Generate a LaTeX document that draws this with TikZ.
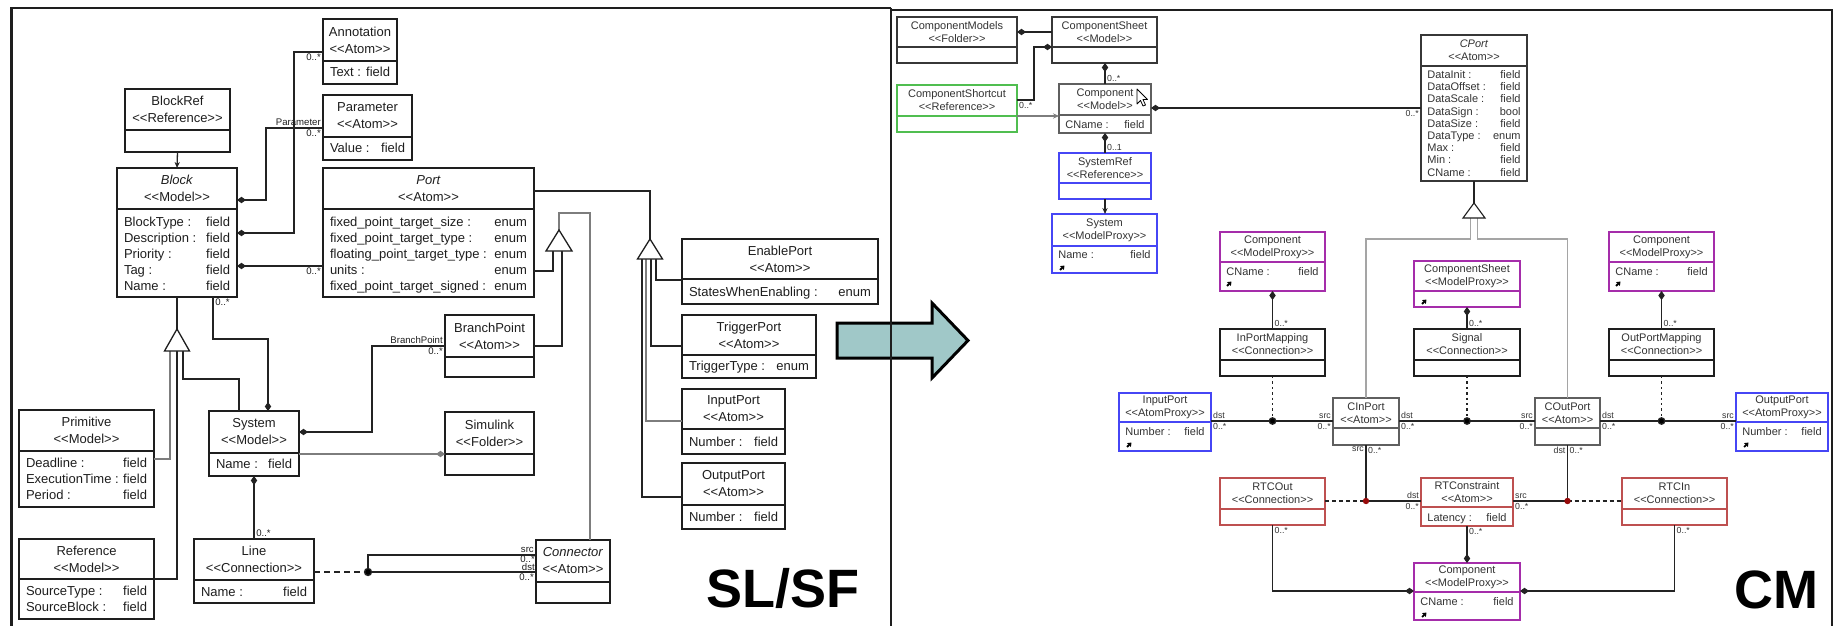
\documentclass[tikz,border=0pt]{standalone}
\usepackage{fontspec}
\setmainfont{Liberation Sans}
\usetikzlibrary{fit,calc,arrows.meta}

\definecolor{ink}{RGB}{30,30,30}
\definecolor{wire}{RGB}{35,35,35}
\definecolor{wiregray}{RGB}{125,125,125}
\definecolor{genline}{RGB}{165,165,165}
\definecolor{cmgray}{RGB}{55,55,55}
\definecolor{cmmid}{RGB}{95,95,95}
\definecolor{cmgreen}{RGB}{80,190,80}
\definecolor{cmblue}{RGB}{70,70,245}
\definecolor{cmmag}{RGB}{165,45,170}
\definecolor{cmred}{RGB}{190,80,80}
\definecolor{dotred}{RGB}{150,10,10}
\definecolor{arrowfill}{RGB}{160,200,200}
\colorlet{boxtxt}{ink}

% stereotype brackets, kept apart so no ligature is formed
\newcommand\stereo[1]{\textless\kern0pt\textless#1\textgreater\kern0pt\textgreater}
\newcommand\boxfont{\fontsize{6.5}{8.5}\selectfont}
\newcommand\lblfont{\fontsize{4.8}{5.5}\selectfont}
\newcommand\padx{3.3pt}
\newcommand\boxlw{0.65pt}

\tikzset{
  umlbox/.style={draw=#1, line width=\boxlw, inner sep=0pt, outer sep=0pt},
  hdrtext/.style={inner sep=0pt, align=center, font=\boxfont, text=boxtxt},
  attrtext/.style={inner sep=0pt, font=\boxfont, text=boxtxt},
  ml/.style={inner sep=0.8pt, font=\lblfont, text=boxtxt},
  tight/.style={inner sep=0.3pt},
  wire/.style={draw=wire, line width=0.65pt},
  rwire/.style={draw=wire, line width=0.55pt},
  genl/.style={draw=genline, line width=0.65pt},
  owns/.style={-{Diamond[length=4.5pt,width=3.2pt]}},
  nav/.style={-{Stealth[length=3pt,width=2.6pt]}},
  gentri/.style={draw=ink, fill=white, line width=0.65pt, line join=miter},
  title/.style={inner sep=0pt, anchor=base, font=\fontsize{27}{27}\selectfont\bfseries, text=black},
}

% class box: [colour] name, corner, corner, divider y, header text
\newcommand\cls[6][ink]{%
  \node[umlbox=#1, fit={(#3) (#4)}] (#2) {};
  \draw[draw=#1, line width=\boxlw] (#2.west |- 0,#5) -- (#2.east |- 0,#5);
  \node[hdrtext] (#2-t) at ($(#2.north)!0.5!(#2.north |- 0,#5)$) {#6};
}
% attribute rows: name, first baseline y, row step, list of key/value
\newcommand\rows[4]{%
  \foreach \ka/\va [count=\ix from 0] in {#4}{%
    \pgfmathsetmacro\yy{#2+\ix*#3}%
    \node[attrtext, anchor=base west, xshift=\padx] (#1-k\ix) at (#1.west |- 0,\yy) {\ka};
    \node[attrtext, anchor=base east, xshift=-\padx] (#1-v\ix) at (#1.east |- 0,\yy) {\va};
  }}
% small proxy marker arrow
\newcommand\proxyicon[1]{%
  \draw[shift={(#1)}, line width=0.9pt, -{Triangle[length=1.8pt,width=2.6pt]}] (-2,3) -- (2.5,-1.5);}

\begin{document}
\begin{tikzpicture}[x=0.5pt, y=-0.5pt]
\useasboundingbox (0,0) rectangle (1847,626);
\fill[white] (0,0) rectangle (1847,626);

% transformation arrow between the two panels
\draw[line width=1.5pt, fill=arrowfill, line join=miter]
  (837,323) -- (932,323) -- (932,303) -- (968,340.5) -- (932,378) -- (932,358) -- (837,358) -- cycle;

% panel frames
\draw[ink, line width=1.5pt] (11,626) -- (11,8);
\draw[ink, line width=0.9pt] (10.3,8) -- (891,8);
\draw[ink, line width=0.6pt] (891,8) -- (891,626);
\draw[ink, line width=1pt] (891,10) -- (1832,10) -- (1832,626);

% ================= SL/SF metamodel =================
\cls{annotation}{323,19}{397,84}{61}{Annotation\\\stereo{Atom}}
\rows{annotation}{77}{16}{Text :/field}
\cls{parameter}{323,95}{412,160}{137}{Parameter\\\stereo{Atom}}
\rows{parameter}{153}{16}{Value :/field}
\cls{blockref}{125,89}{230,152}{130}{BlockRef\\\stereo{Reference}}
\cls{block}{117,168}{237,297}{209}{\textit{Block}\\\stereo{Model}}
\rows{block}{226.5}{16}{BlockType :/field, Description :/field, Priority :/field, Tag :/field, Name :/field}
\cls{port}{323,168}{534,297}{209}{\textit{Port}\\\stereo{Atom}}
\rows{port}{226.5}{16}{fixed\_point\_target\_size :/enum, fixed\_point\_target\_type :/enum, floating\_point\_target\_type :/enum, units :/enum, fixed\_point\_target\_signed :/enum}
\cls{branchpoint}{445,315}{534,377}{357}{BranchPoint\\\stereo{Atom}}
\cls{simulink}{445,412}{534,475}{454}{Simulink\\\stereo{Folder}}
\cls{system}{209,411}{299,476}{453}{System\\\stereo{Model}}
\rows{system}{468.5}{16}{Name :/field}
\cls{primitive}{19,410}{154,507}{451}{Primitive\\\stereo{Model}}
\rows{primitive}{467.5}{16}{Deadline :/field, ExecutionTime :/field, Period :/field}
\cls{reference}{19,539}{154,619}{579}{Reference\\\stereo{Model}}
\rows{reference}{595.5}{16}{SourceType :/field, SourceBlock :/field}
\cls{line}{194,539}{314,603}{580}{Line\\\stereo{Connection}}
\rows{line}{596.5}{16}{Name :/field}
\cls{connector}{536,540}{610,603}{582}{\textit{Connector}\\\stereo{Atom}}
\cls{enableport}{682,239}{878,304}{279}{EnablePort\\\stereo{Atom}}
\rows{enableport}{296.5}{16}{StatesWhenEnabling :/enum}
\cls{triggerport}{682,315}{816,378}{355}{TriggerPort\\\stereo{Atom}}
\rows{triggerport}{370.5}{16}{TriggerType :/enum}
\cls{inputport}{682,389}{785,454}{429}{InputPort\\\stereo{Atom}}
\rows{inputport}{446.5}{16}{Number :/field}
\cls{outputport}{682,463}{785,529}{505}{OutputPort\\\stereo{Atom}}
\rows{outputport}{521.5}{16}{Number :/field}

% containment and references
\draw[wire, nav] (blockref.south) -- (block.north);
\draw[wire, owns] (parameter.west |- 0,128)
    node[ml, anchor=south east] {Parameter} node[ml, anchor=north east] {0..*}
    -- (266,128) -- (266,200) -- (block.east |- 0,200);
\draw[wire, owns] (annotation.west |- 0,52) node[ml, anchor=north east] {0..*}
    -- (294,52) -- (294,233) -- (block.east |- 0,233);
\draw[wire, owns] (port.west |- 0,266) node[ml, anchor=north east] {0..*}
    -- (block.east |- 0,266);
\draw[wire, owns] (block.south -| 213,0) node[ml, anchor=north west] {0..*}
    -- (213,339) -- (268,339) -- (system.north -| 268,0);
\draw[wire, owns] (branchpoint.west |- 0,346)
    node[ml, anchor=south east] {BranchPoint} node[ml, anchor=north east] {0..*}
    -- (372,346) -- (372,432) -- (system.east |- 0,432);
\draw[wire, draw=wiregray, owns] (system.east |- 0,454) -- (simulink.west |- 0,454);
\draw[wire, owns] (line.north -| 254,0) node[ml, anchor=south west] {0..*}
    -- (system.south -| 254,0);

% Line association class joint
\coordinate (lj) at (368,572);
\draw[wire, dash pattern=on 3pt off 2pt] (line.east |- 0,572) -- (lj);
\draw[wire] (connector.west |- 0,572) node[ml, tight, anchor=south east] {dst} node[ml, anchor=north east] {0..*} -- (lj);
\draw[wire] (connector.west |- 0,555) node[ml, anchor=south east] {src} node[ml, tight, anchor=north east] {0..*}
    -- (lj |- 0,555) -- (lj);
\fill[wire] (lj) circle (1.75pt);

% Block specialisations
\coordinate (g1) at (177,329);
\draw[wire] (block.south) -- (g1);
\draw[wire, draw=wiregray] (primitive.east |- 0,459) -- (170,459) -- (170,351);
\draw[wire] (reference.east |- 0,579) -- (177,579) -- (177,351);
\draw[wire] (system.north -| 239,0) -- (239,379) -- (183,379) -- (183,351);
\draw[gentri] (g1) -- ++(-12.5,22) -- ++(25,0) -- cycle;

% Connector specialisations
\coordinate (g2) at (559,230);
\draw[wire, draw=wiregray] (g2) -- (559,213) -- (590,213) -- (connector.north -| 590,0);
\draw[wire] (port.east |- 0,271) -- (553,271) -- (553,251);
\draw[wire] (branchpoint.east |- 0,346) -- (562,346) -- (562,251);
\draw[gentri] (g2) -- ++(-13,21) -- ++(26,0) -- cycle;

% Port specialisations
\coordinate (g3) at (650,239);
\draw[wire] (g3) -- (650,191) -- (port.east |- 0,191);
\draw[wire] (enableport.west |- 0,280) -- (656,280) -- (656,259);
\draw[wire] (triggerport.west |- 0,346) -- (651,346) -- (651,259);
\draw[wire, draw=wiregray] (inputport.west |- 0,421) -- (646,421) -- (646,259);
\draw[wire] (outputport.west |- 0,497) -- (642,497) -- (642,259);
\draw[gentri] (g3) -- ++(-12.5,20) -- ++(25,0) -- cycle;

\node[title] (slsf) at (783,607) {SL/SF};

% ================= CM metamodel =================
\renewcommand\boxfont{\fontsize{5.5}{6.5}\selectfont}
\renewcommand\lblfont{\fontsize{4.4}{5}\selectfont}
\renewcommand\padx{3pt}
\renewcommand\boxlw{0.6pt}
\colorlet{boxtxt}{black!80}

\cls[cmgray]{cmodels}{897,17}{1017,63}{47}{ComponentModels\\\stereo{Folder}}
\cls[cmgray]{csheet}{1052,17}{1157,63}{47}{ComponentSheet\\\stereo{Model}}
\cls[cmgreen]{cshort}{897,85}{1017,132}{116}{ComponentShortcut\\\stereo{Reference}}
\cls[cmmid]{component}{1059,84}{1151,133}{115}{Component\\\stereo{Model}}
\rows{component}{128}{12.2}{CName :/field}
\cls[cmblue]{sysref}{1059,153}{1151,199}{183}{SystemRef\\\stereo{Reference}}
\cls[cmblue]{sysproxy}{1052,214}{1157,273}{246}{System\\\stereo{ModelProxy}}
\rows{sysproxy}{258}{12.2}{Name :/field}
\proxyicon{1062,267}
\cls[cmgray]{cport}{1421,35}{1527,181}{66}{\textit{CPort}\\\stereo{Atom}}
\rows{cport}{78.5}{12.2}{DataInit :/field, DataOffset :/field, DataScale :/field, DataSign :/bool, DataSize :/field, DataType :/enum, Max :/field, Min :/field, CName :/field}

\cls[cmmag]{cpa}{1220,232}{1325,291}{262}{Component\\\stereo{ModelProxy}}
\rows{cpa}{275}{12.2}{CName :/field}
\proxyicon{1229,283}
\cls[ink]{inmap}{1220,329}{1325,376}{360}{InPortMapping\\\stereo{Connection}}
\draw[ink, line width=1.1pt] (inmap.west |- 0,360) -- (inmap.east |- 0,360);
\cls[cmblue]{inproxy}{1119,393}{1211,451}{422}{InputPort\\\stereo{AtomProxy}}
\rows{inproxy}{435}{12.2}{Number :/field}
\proxyicon{1129,444}
\cls[cmmid]{cin}{1333,398}{1399,445}{428}{CInPort\\\stereo{Atom}}
\cls[cmmag]{sheetproxy}{1414,261}{1520,307}{291}{ComponentSheet\\\stereo{ModelProxy}}
\proxyicon{1424,301}
\cls[ink]{signal}{1414,329}{1520,376}{360}{Signal\\\stereo{Connection}}
\draw[ink, line width=1.1pt] (signal.west |- 0,360) -- (signal.east |- 0,360);
\cls[cmmid]{cout}{1535,398}{1600,445}{428}{COutPort\\\stereo{Atom}}
\cls[cmmag]{cpb}{1609,232}{1714,291}{262}{Component\\\stereo{ModelProxy}}
\rows{cpb}{275}{12.2}{CName :/field}
\proxyicon{1618,283}
\cls[ink]{outmap}{1609,329}{1714,376}{360}{OutPortMapping\\\stereo{Connection}}
\draw[ink, line width=1.1pt] (outmap.west |- 0,360) -- (outmap.east |- 0,360);
\cls[cmblue]{outproxy}{1736,393}{1828,451}{422}{OutputPort\\\stereo{AtomProxy}}
\rows{outproxy}{435}{12.2}{Number :/field}
\proxyicon{1746,444}
\cls[cmred]{rtcout}{1220,478}{1325,525}{509}{RTCOut\\\stereo{Connection}}
\cls[cmred]{rtc}{1421,478}{1513,526}{507}{RTConstraint\\\stereo{Atom}}
\rows{rtc}{521}{12.2}{Latency :/field}
\cls[cmred]{rtcin}{1622,478}{1727,525}{509}{RTCIn\\\stereo{Connection}}
\cls[cmmag]{cpc}{1414,563}{1520,620}{592}{Component\\\stereo{ModelProxy}}
\rows{cpc}{605}{12.2}{CName :/field}
\proxyicon{1424,614}

% mouse pointer resting on Component
\draw[black, fill=white, line width=0.4pt, line join=round, shift={(1137,89)}]
  (0,0) -- (0,15) -- (3.5,11.5) -- (6,17) -- (8.5,16) -- (6,10.5) -- (10.5,10.5) -- cycle;

% folder / sheet containment
\draw[rwire, owns] (csheet.west |- 0,32) -- (cmodels.east |- 0,32);
\draw[rwire, owns] (cshort.east |- 0,100) node[ml, anchor=north west] {0..*}
    -- (1034,100) -- (1034,47) -- (csheet.west |- 0,47);
\draw[rwire, draw=wiregray, nav] (cshort.east |- 0,116) -- (component.west |- 0,116);
\draw[rwire, owns] (component.north) node[ml, anchor=south west] {0..*} -- (component.north |- csheet.south);
\draw[rwire, owns] (cport.west |- 0,108) node[ml, anchor=north east] {0..*} -- (component.east |- 0,108);
\draw[rwire, owns] (sysref.north) node[ml, anchor=south west] {0..1} -- (sysref.north |- component.south);
\draw[rwire, nav] (sysref.south) -- (sysref.south |- sysproxy.north);

% CPort specialisations
\coordinate (g4) at (cport.south |- 0,203);
\draw[rwire] (cport.south) -- (g4);
\draw[genl] (cin.north) -- (cin.north |- 0,239) -- (1470.5,239) -- (1470.5,218);
\draw[genl] (cout.north) -- (cout.north |- 0,239) -- (1477.5,239) -- (1477.5,218);
\draw[gentri, line width=0.55pt] (g4) -- ++(-11,15) -- ++(22,0) -- cycle;

% port mappings and signals
\draw[rwire, owns] (inmap.north) node[ml, anchor=south west] {0..*} -- (inmap.north |- cpa.south);
\draw[rwire, owns] (signal.north) node[ml, anchor=south west] {0..*} -- (signal.north |- sheetproxy.south);
\draw[rwire, owns] (outmap.north) node[ml, anchor=south west] {0..*} -- (outmap.north |- cpb.south);
\coordinate (jin) at (inmap.south |- 0,421);
\coordinate (jsig) at (signal.south |- 0,421);
\coordinate (jout) at (outmap.south |- 0,421);
\draw[rwire, dash pattern=on 1.2pt off 1.5pt] (inmap.south) -- (jin);
\draw[rwire, dash pattern=on 1.2pt off 1.5pt] (signal.south) -- (jsig);
\draw[rwire, dash pattern=on 1.2pt off 1.5pt] (outmap.south) -- (jout);
\draw[rwire] (inproxy.east |- 0,421) node[ml, anchor=south west] {dst} node[ml, anchor=north west] {0..*}
    -- (cin.west |- 0,421) node[ml, anchor=south east] {src} node[ml, anchor=north east] {0..*};
\draw[rwire] (cin.east |- 0,421) node[ml, anchor=south west] {dst} node[ml, anchor=north west] {0..*}
    -- (cout.west |- 0,421) node[ml, anchor=south east] {src} node[ml, anchor=north east] {0..*};
\draw[rwire] (cout.east |- 0,421) node[ml, anchor=south west] {dst} node[ml, anchor=north west] {0..*}
    -- (outproxy.west |- 0,421) node[ml, anchor=south east] {src} node[ml, anchor=north east] {0..*};
\foreach \j in {jin, jsig, jout} \fill[wire] (\j) circle (1.6pt);

% timing constraints
\coordinate (jrl) at (cin.south |- 0,501);
\coordinate (jrr) at (cout.south |- 0,501);
\draw[rwire] (cin.south) node[ml, anchor=north east] {src} node[ml, anchor=north west] {0..*} -- (jrl);
\draw[rwire] (cout.south) node[ml, anchor=north east] {dst} node[ml, anchor=north west] {0..*} -- (jrr);
\draw[rwire] (rtc.west |- 0,501) node[ml, anchor=south east] {dst} node[ml, anchor=north east] {0..*} -- (jrl);
\draw[rwire] (rtc.east |- 0,501) node[ml, anchor=south west] {src} node[ml, anchor=north west] {0..*} -- (jrr);
\draw[rwire, dash pattern=on 2pt off 1.5pt] (rtcout.east |- 0,501) -- (jrl);
\draw[rwire, dash pattern=on 2pt off 1.5pt] (jrr) -- (rtcin.west |- 0,501);
\fill[dotred] (jrl) circle (1.6pt);
\fill[dotred] (jrr) circle (1.6pt);
\draw[rwire, owns] (rtc.south) node[ml, anchor=north west] {0..*} -- (rtc.south |- cpc.north);
\draw[rwire, owns] (rtcout.south) node[ml, anchor=north west] {0..*} -- (rtcout.south |- 0,591) -- (cpc.west |- 0,591);
\draw[rwire, owns] (rtcin.south) node[ml, anchor=north west] {0..*} -- (rtcin.south |- 0,591) -- (cpc.east |- 0,591);

\node[title] (cmtitle) at (1776,608) {CM};
\end{tikzpicture}
\end{document}
